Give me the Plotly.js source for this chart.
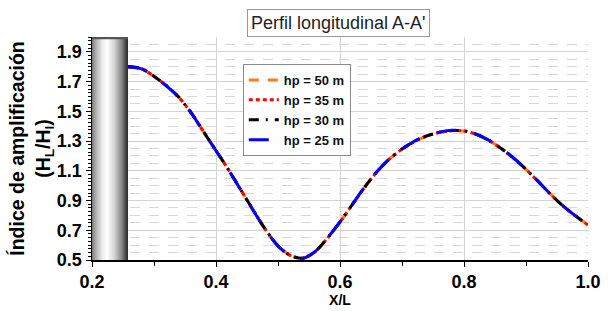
<!DOCTYPE html>
<html><head><meta charset="utf-8">
<script src="https://cdn.plot.ly/plotly-3.0.1.min.js"></script>
<style>html,body{margin:0;padding:0;background:#fff}#chart{width:611px;height:311px}</style>
</head><body><div id="chart"></div>
<script>
// X/L positions
const xl = [0.258,0.28,0.30,0.32,0.34,0.36,0.38,0.40,0.42,0.44,0.46,0.48,0.50,0.52,0.54,0.56,0.58,0.60,0.62,0.64,0.66,0.68,0.70,0.72,0.74,0.76,0.78,0.80,0.82,0.84,0.86,0.88,0.90,0.92,0.94,0.96,0.98,1.00];
// amplification index per foundation depth
const hp50 = [1.800,1.788,1.736,1.673,1.596,1.491,1.363,1.237,1.109,0.973,0.836,0.704,0.596,0.531,0.513,0.556,0.648,0.755,0.873,0.990,1.095,1.180,1.245,1.297,1.334,1.358,1.370,1.368,1.345,1.305,1.250,1.185,1.110,1.027,0.942,0.863,0.797,0.737];
const hp35 = [1.800,1.787,1.735,1.672,1.595,1.490,1.362,1.236,1.108,0.972,0.835,0.703,0.595,0.530,0.512,0.556,0.648,0.755,0.873,0.990,1.095,1.180,1.245,1.297,1.334,1.358,1.370,1.368,1.345,1.305,1.250,1.185,1.110,1.026,0.941,0.862,0.796,0.735];
const hp30 = [1.801,1.788,1.736,1.672,1.595,1.490,1.362,1.236,1.108,0.972,0.835,0.703,0.595,0.530,0.512,0.557,0.649,0.756,0.874,0.991,1.096,1.181,1.246,1.298,1.335,1.359,1.371,1.369,1.345,1.305,1.250,1.185,1.110,1.026,0.941,0.862,0.796,0.736];
const hp25 = [1.799,1.786,1.734,1.671,1.594,1.489,1.361,1.235,1.107,0.971,0.834,0.702,0.594,0.529,0.511,0.557,0.650,0.757,0.875,0.992,1.097,1.182,1.247,1.299,1.336,1.360,1.372,1.370,1.346,1.306,1.251,1.186,1.111,1.027,0.942,0.863,0.797,0.736];
// wall (gray cylinder) extent
const wallX = [0.2,0.258,0.258,0.2,0.2];
const wallY = [0.5,0.5,2.0,2.0,0.5];
const capY = [1.985,1.985,2.0,2.0,1.985];
const names = ['hp = 50 m','hp = 35 m','hp = 30 m','hp = 25 m'];
const xTicks = [0.2,0.4,0.6,0.8,1.0];
const yTicks = [0.5,0.7,0.9,1.1,1.3,1.5,1.7,1.9];

const F = 'Liberation Sans, Arial, sans-serif';
const traces = [
  {x: wallX, y: wallY, type:'scatter', mode:'lines', fill:'toself', line:{width:0},
   fillcolor:'#cccccc',
   fillgradient:{type:'horizontal', colorscale:[[0,'#7a7a7a'],[0.12,'#b4b4b4'],[0.3,'#efefef'],[0.42,'#ffffff'],[0.62,'#d4d4d4'],[0.82,'#8a8a8a'],[0.95,'#404040'],[1,'#202020']]},
   showlegend:false, hoverinfo:'skip'},
  {x: wallX, y: capY, type:'scatter', mode:'lines', fill:'toself', line:{width:0}, fillcolor:'#555555', showlegend:false, hoverinfo:'skip'},
  {x: xl, y: hp50, name: names[0], type:'scatter', mode:'lines', line:{color:'#ff7a1f', width:3, dash:'10px,9px', shape:'spline', smoothing:0.8}},
  {x: xl, y: hp35, name: names[1], type:'scatter', mode:'lines', line:{color:'#ff0000', width:3, dash:'4px,3px', shape:'spline', smoothing:0.8}},
  {x: xl, y: hp30, name: names[2], type:'scatter', mode:'lines', line:{color:'#000000', width:3, dash:'10px,7px,2px,7px', shape:'spline', smoothing:0.8}},
  {x: xl, y: hp25, name: names[3], type:'scatter', mode:'lines', line:{color:'#0000ff', width:3, dash:'20px,18px', shape:'spline', smoothing:0.8}}
];

const layout = {
  width:611, height:311,
  margin:{l:92, r:23, t:37, b:51},
  paper_bgcolor:'#fff', plot_bgcolor:'#fff',
  font:{family:F, color:'#000'},
  showlegend:true,
  legend:{x:0.304, y:0.879, xanchor:'left', yanchor:'top', bgcolor:'#fff', bordercolor:'#8a8a8a', borderwidth:1,
          font:{family:F, size:13, weight:'bold', color:'#111'}, itemwidth:30, tracegroupgap:0},
  xaxis:{range:[0.2,1.0], tickvals:xTicks, ticktext:xTicks.map(v=>v.toFixed(1)),
         ticks:'outside', ticklen:5, tickcolor:'#000', showline:true, linecolor:'#000', linewidth:1.5,
         showgrid:true, gridcolor:'#d4d4d4', gridwidth:1, zeroline:false,
         tickfont:{family:F, size:18, weight:'bold'},
         minor:{dtick:0.1, tick0:0.2, ticks:'outside', ticklen:4, tickcolor:'#000', showgrid:false},
         title:{text:'X/L', font:{family:F, size:14, weight:'bold'}, standoff:4}},
  yaxis:{range:[0.5,2.0], tickvals:yTicks, ticktext:yTicks.map(v=>v.toFixed(1)),
         ticks:'outside', ticklen:5, tickcolor:'#000', showline:true, linecolor:'#000', linewidth:1.5,
         showgrid:true, gridcolor:'#d4d4d4', gridwidth:1, zeroline:false,
         tickfont:{family:F, size:18, weight:'bold'},
         minor:{dtick:0.05, tick0:0.5, ticks:'outside', ticklen:3, tickcolor:'#000', showgrid:true, gridcolor:'#d8d8d8', griddash:'10px,9px', gridwidth:1},
         title:{text:'Índice de amplificación<br>(H<sub>L</sub>/H<sub>I</sub>)', font:{family:F, size:19.5, weight:'bold'}, standoff:0}},
  yaxis2:{range:[0.5,2.0], overlaying:'y', side:'left', dtick:0.025, tick0:0.5, ticks:'outside', ticklen:3, tickcolor:'#000',
          showticklabels:false, showgrid:false, showline:false, zeroline:false},
  annotations:[{text:"Perfil longitudinal A-A'", xref:'paper', yref:'paper', x:0.496, y:1.063, xanchor:'center', yanchor:'middle',
    showarrow:false, font:{family:F, size:18, color:'#222'}, bordercolor:'#999', borderwidth:1, borderpad:3, bgcolor:'#fff'}]
};
traces.push({x:[0.2], y:[0.5], yaxis:'y2', type:'scatter', mode:'markers', marker:{opacity:0}, showlegend:false, hoverinfo:'skip'});
Plotly.newPlot('chart', traces, layout, {staticPlot:true, displayModeBar:false});
</script></body></html>
